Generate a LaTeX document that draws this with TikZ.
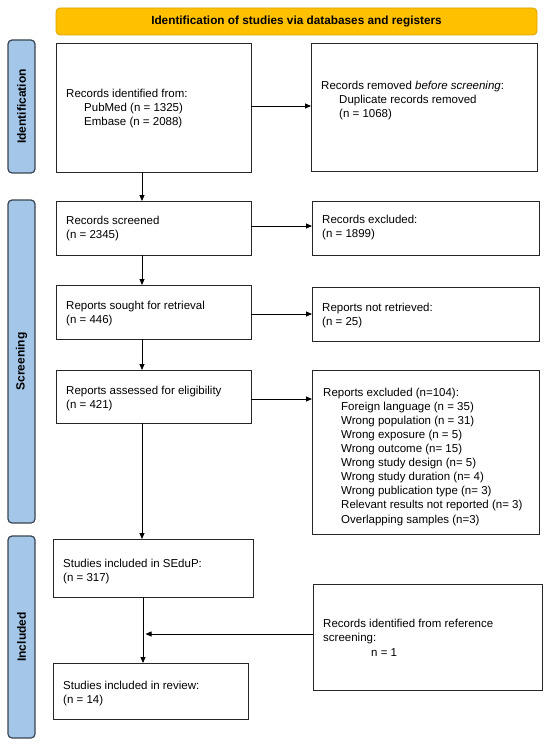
\documentclass[tikz,border=0pt]{standalone}
\usepackage{fontspec}
\setmainfont{Liberation Sans}
\usetikzlibrary{arrows.meta}
\definecolor{hdr}{HTML}{FFC000}
\definecolor{hdrb}{HTML}{D9A300}
\definecolor{side}{HTML}{A3C6E9}
\definecolor{sideb}{HTML}{3A4450}
\begin{document}
\begin{tikzpicture}[x=1pt,y=-1pt,
  box/.style={draw=black!85, line width=0.8pt, fill=white},
  sidebar/.style={draw=sideb, line width=1.2pt, fill=side, rounded corners=4pt},
  txt/.style={anchor=north west, align=left, font=\fontsize{11.5}{14}\selectfont, inner sep=0pt},
  lbl/.style={rotate=90, font=\bfseries\fontsize{12}{14}\selectfont},
  arr/.style={-{Triangle[length=6pt,width=5pt]}, line width=0.8pt, black}]
\useasboundingbox (0,0) rectangle (550,746);
% header
\node[draw=hdrb, line width=0.8pt, fill=hdr, rounded corners=4pt, minimum width=481pt, minimum height=27pt, font=\bfseries\fontsize{11.8}{14}\selectfont] (hdr) at (296.5,21.5) {Identification of studies via databases and registers};
% side bars
\node[sidebar, minimum width=27pt, minimum height=133pt] (sid) at (21.5,106.5) {};
\node[lbl] (sidl) at (sid.center) {Identification};
\node[sidebar, minimum width=27pt, minimum height=323pt] (ssc) at (21.5,361.5) {};
\node[lbl] (sscl) at (ssc.center) {Screening};
\node[sidebar, minimum width=27pt, minimum height=202pt] (sin) at (21.5,637) {};
\node[lbl] (sinl) at (sin.center) {Included};
% boxes
\draw[box] (56,43) rectangle (251,172);
\coordinate (b1s) at (142,172); \coordinate (b1e) at (251,106);
\node[txt] (t1) at (66,88.6) {Records identified from:\\\hspace{18pt}PubMed (n = 1325)\\\hspace{18pt}Embase (n = 2088)};
\draw[box] (311,43) rectangle (537,171);
\coordinate (b2w) at (311,106);
\node[txt] (t2) at (321,80.6) {Records removed \textit{before screening}:\\\hspace{18pt}Duplicate records removed\\\hspace{18pt}(n = 1068)};

\draw[box] (56,201) rectangle (251,255);
\coordinate (b3n) at (142,201); \coordinate (b3s) at (142,255); \coordinate (b3e) at (251,226);
\node[txt] (t3) at (66,215.6) {Records screened\\(n = 2345)};
\draw[box] (312,201) rectangle (539,255);
\coordinate (b4w) at (312,226);
\node[txt] (t4) at (322,214.6) {Records excluded:\\(n = 1899)};

\draw[box] (56,285) rectangle (251,339);
\coordinate (b5n) at (142,285); \coordinate (b5s) at (142,339); \coordinate (b5e) at (251,314);
\node[txt] (t5) at (66,300.6) {Reports sought for retrieval\\(n = 446)};
\draw[box] (312,287) rectangle (539,341);
\coordinate (b6w) at (312,314);
\node[txt] (t6) at (322,302.6) {Reports not retrieved:\\(n = 25)};

\draw[box] (56,370) rectangle (251,423);
\coordinate (b7n) at (142,370); \coordinate (b7s) at (142,423); \coordinate (b7e) at (251,399);
\node[txt] (t7) at (66,385.6) {Reports assessed for eligibility\\(n = 421)};
\draw[box] (312,370) rectangle (539,534);
\coordinate (b8w) at (312,399);
\node[txt, font=\fontsize{11.5}{14.1}\selectfont] (t8) at (323,387.6) {Reports excluded (n=104):\\
\hspace{18pt}Foreign language (n = 35)\\
\hspace{18pt}Wrong population (n = 31)\\
\hspace{18pt}Wrong exposure (n = 5)\\
\hspace{18pt}Wrong outcome (n= 15)\\
\hspace{18pt}Wrong study design (n= 5)\\
\hspace{18pt}Wrong study duration (n= 4)\\
\hspace{18pt}Wrong publication type (n= 3)\\
\hspace{18pt}Relevant results not reported (n= 3)\\
\hspace{18pt}Overlapping samples (n=3)};

\draw[box] (53,539) rectangle (253,597);
\coordinate (b9n) at (142,539); \coordinate (b9s) at (143,597);
\node[txt] (t9) at (63,558.6) {Studies included in SEduP:\\(n = 317)};
\draw[box] (53,663) rectangle (248,719);
\coordinate (b10n) at (143,663);
\node[txt] (t10) at (63,680.6) {Studies included in review:\\(n = 14)};
\draw[box] (313,584) rectangle (542,690);
\coordinate (b11w) at (313,634);
\node[txt, font=\fontsize{11.5}{14.5}\selectfont] (t11) at (323,618.6) {Records identified from reference\\screening:\\\hspace{48pt}n = 1};
\coordinate (mid) at (145.5,634);

% arrows
\draw[arr] (b1e) -- (b2w);
\draw[arr] (b1s) -- (b3n);
\draw[arr] (b3e) -- (b4w);
\draw[arr] (b3s) -- (b5n);
\draw[arr] (b5e) -- (b6w);
\draw[arr] (b5s) -- (b7n);
\draw[arr] (b7e) -- (b8w);
\draw[arr] (b7s) -- (b9n);
\draw[arr] (b9s) -- (b10n);
\draw[arr] (b11w) -- (mid);
\end{tikzpicture}
\end{document}
